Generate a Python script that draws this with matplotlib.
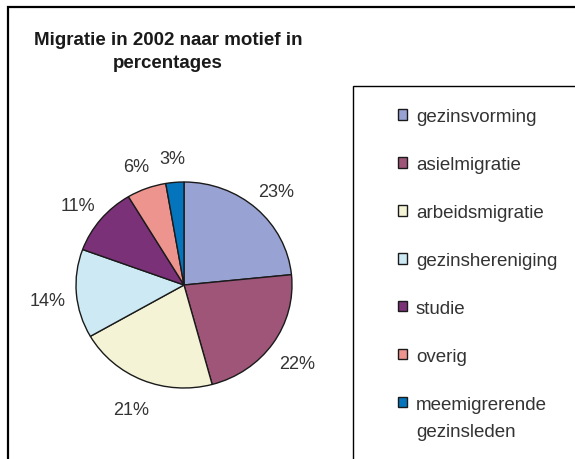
#!/usr/bin/env python

import matplotlib
matplotlib.use("Agg")
import matplotlib.pyplot as plt
from matplotlib.patches import Rectangle, Patch
from matplotlib.transforms import offset_copy

matplotlib.rc("font", **{"family": ["Liberation Sans", "DejaVu Sans"]})

# data
motieven = ["gezinsvorming", "asielmigratie", "arbeidsmigratie",
            "gezinshereniging", "studie", "overig",
            "meemigrerende\ngezinsleden"]
aandeel = [23.4, 22.4, 20.9, 13.9, 10.8, 5.9, 2.7]
kleuren = ["#99a3d3", "#9e5578", "#f4f3d6", "#cde9f4", "#7b3177",
           "#ee948e", "#0474bc"]
titel = "Migratie in 2002 naar motief in\npercentages"

W, H = 575, 460
fig = plt.figure(figsize=(W / 100, H / 100), dpi=100)

# outer chart border (runs off the right and bottom edge)
fig.add_artist(Rectangle((8 / W, -0.1), 1.2, 1 - 8 / H + 0.1,
                         transform=fig.transFigure, fill=False,
                         edgecolor="black", linewidth=1.6))

# title
fig.text(168 / W, 1 - 52 / H, titel, ha="center", va="center",
         fontsize=13.5, fontweight="bold", color="#1a1a1a",
         linespacing=1.45)

# pie (slightly elliptic, like the original)
cx, cy, rx, ry = 184, 286, 108, 103
ax = fig.add_axes([(cx - rx) / W, (H - cy - ry) / H, 2 * rx / W, 2 * ry / H])
wedges, texts, autotexts = ax.pie(aandeel, colors=kleuren, startangle=90,
                                  counterclock=False, autopct="%.0f%%",
                                  pctdistance=1.27,
                                  wedgeprops={"edgecolor": "#1a1a1a",
                                              "linewidth": 1.0},
                                  textprops={"fontsize": 13,
                                             "color": "#333333"})
ax.set_aspect("auto")
ax.set_xlim(-1, 1)
ax.set_ylim(-1, 1)
ax.axis("off")
for t in autotexts:
    t.set_clip_on(False)
    t.set_transform(offset_copy(ax.transData, fig=fig, x=0, y=-4,
                                units="dots"))

# legend box (also runs off the edges)
fig.add_artist(Rectangle((353 / W, -0.1), 1.0, 1 - 87 / H + 0.1,
                         transform=fig.transFigure, fill=False,
                         edgecolor="black", linewidth=1.0))
handles = [Patch(facecolor=c, edgecolor="#1a1a1a", linewidth=1.0)
           for c in kleuren]
eerste = [m.split("\n")[0] for m in motieven]
leg = fig.legend(handles, eerste, loc="upper left",
                 bbox_to_anchor=(398 / W, 1 - 109 / H), frameon=False,
                 fontsize=13.5, labelspacing=1.65, handlelength=0.5,
                 handleheight=0.5, handletextpad=0.45, borderpad=0,
                 borderaxespad=0)
for t in leg.get_texts():
    t.set_color("#333333")

# Excel puts the marker next to the first line of a wrapped entry
fig.canvas.draw()
for t, m in zip(leg.get_texts(), motieven):
    rest = m.split("\n")[1:]
    if rest:
        bb = t.get_window_extent()
        fig.text(bb.x0 / W, (bb.y0 - 27) / H, "\n".join(rest),
                 fontsize=13.5, color="#333333", ha="left", va="bottom")

fig.savefig("out.png", dpi=100)
plt.close(fig)
